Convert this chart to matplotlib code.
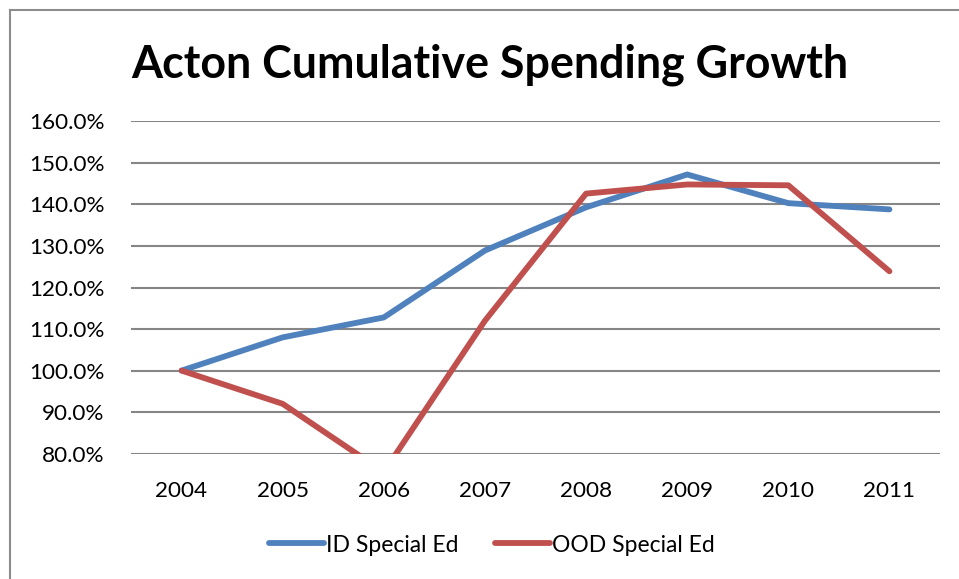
import matplotlib
matplotlib.use("Agg")
import matplotlib.pyplot as plt
from matplotlib.lines import Line2D
from matplotlib.ticker import FuncFormatter

years = ["2004", "2005", "2006", "2007", "2008", "2009", "2010", "2011"]
id_special_ed = [100.0, 108.0, 112.8, 128.9, 139.3, 147.2, 140.3, 138.8]
ood_special_ed = [100.0, 92.0, 75.6, 112.0, 142.6, 144.8, 144.6, 123.9]
series_names = ["ID Special Ed", "OOD Special Ed"]
title = "Acton Cumulative Spending Growth"

plt.rcParams['font.family'] = ['Lato', 'DejaVu Sans']

W, H = 959, 579
fig = plt.figure(figsize=(W / 100, H / 100), dpi=100)
left, right, top, bottom = 131, 940, 121.3, 453.7
ax = fig.add_axes([left / W, 1 - bottom / H, (right - left) / W, (bottom - top) / H])

x = list(range(len(years)))
lw = 4.2
ax.plot(x, id_special_ed, color="#4F81BD", lw=lw, solid_capstyle="round",
        solid_joinstyle="round", label=series_names[0], zorder=3)
ax.plot(x, ood_special_ed, color="#C0504D", lw=lw, solid_capstyle="round",
        solid_joinstyle="round", label=series_names[1], zorder=3)

ax.set_xlim(-0.5, len(years) - 0.5)
ax.set_ylim(80, 160)
ax.set_yticks(range(80, 161, 10))
ax.yaxis.set_major_formatter(FuncFormatter(lambda v, p: f"{v:.1f}%"))
ax.set_xticks(x)
ax.set_xticklabels(years)
ax.grid(axis="y", color="#868686", lw=1.5, zorder=1)
for s in ax.spines.values():
    s.set_visible(False)
ax.tick_params(axis="both", length=0, labelsize=16.2, colors="black")
ax.tick_params(axis="y", pad=19)
ax.tick_params(axis="x", pad=20)

fig.text(490 / W, 1 - 77 / H, title, ha="center", va="baseline",
         fontsize=32.2, fontweight="bold")

leg = fig.legend(loc="center", bbox_to_anchor=(492 / W, 1 - 545 / H), ncol=2,
                 frameon=False, fontsize=16.5, handlelength=2.4,
                 handletextpad=0.1, columnspacing=1.6)

# outer frame
fig.add_artist(Line2D([9.5 / W, 9.5 / W], [0, 1 - 9.5 / H], transform=fig.transFigure,
                      color="#8C8C8C", lw=1.5))
fig.add_artist(Line2D([9.5 / W, 1], [1 - 9.5 / H, 1 - 9.5 / H], transform=fig.transFigure,
                      color="#8C8C8C", lw=1.5))

fig.savefig("out.png", dpi=100, facecolor="white")
